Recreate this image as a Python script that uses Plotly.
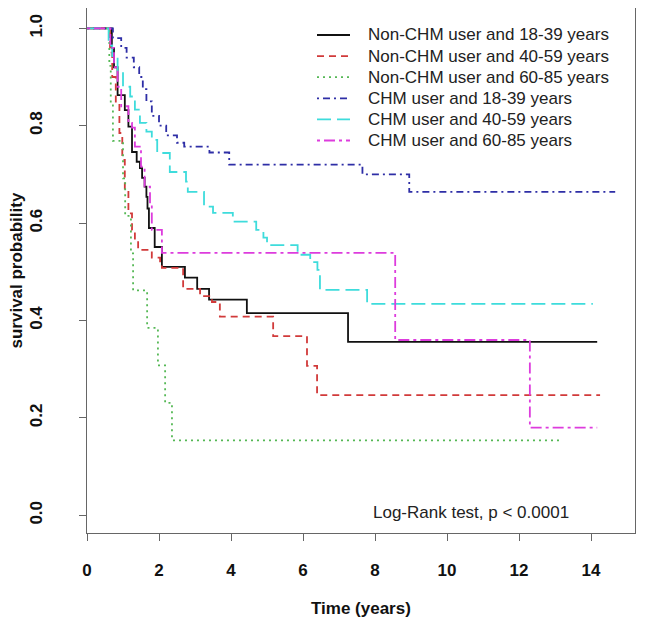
import plotly.graph_objects as go

# ---- data ----
names = [
    "Non-CHM user and 18-39 years",
    "Non-CHM user and 40-59 years",
    "Non-CHM user and 60-85 years",
    "CHM user and 18-39 years",
    "CHM user and 40-59 years",
    "CHM user and 60-85 years",
]

# Kaplan-Meier step points: event time -> survival after the drop
nonchm_1839_t = [0, 0.69, 0.75, 0.85, 1.05, 1.15, 1.25, 1.38, 1.47, 1.53, 1.60, 1.65, 1.68, 1.72, 1.88, 2.08, 2.72, 3.06, 3.39, 4.44, 7.25, 14.17]
nonchm_1839_s = [1.0, 0.96, 0.92, 0.863, 0.832, 0.798, 0.746, 0.726, 0.713, 0.693, 0.675, 0.654, 0.63, 0.59, 0.551, 0.51, 0.488, 0.465, 0.443, 0.415, 0.356, 0.356]

nonchm_4059_t = [0, 0.64, 0.70, 0.80, 0.90, 0.98, 1.05, 1.15, 1.25, 1.33, 1.42, 1.80, 2.03, 2.08, 2.67, 3.14, 3.47, 3.69, 5.17, 6.11, 6.39, 14.25]
nonchm_4059_s = [1.0, 0.95, 0.90, 0.847, 0.785, 0.73, 0.668, 0.62, 0.586, 0.566, 0.545, 0.529, 0.518, 0.508, 0.465, 0.45, 0.438, 0.408, 0.368, 0.307, 0.247, 0.247]

nonchm_6085_t = [0, 0.62, 0.66, 0.72, 1.00, 1.06, 1.22, 1.28, 1.67, 1.97, 2.17, 2.36, 13.14]
nonchm_6085_s = [1.0, 0.923, 0.846, 0.769, 0.692, 0.615, 0.538, 0.462, 0.385, 0.308, 0.231, 0.154, 0.154]

chm_1839_t = [0, 0.72, 0.95, 1.10, 1.30, 1.45, 1.55, 1.65, 1.80, 2.00, 2.20, 2.50, 2.70, 3.40, 3.95, 7.65, 8.95, 14.67]
chm_1839_s = [1.0, 0.98, 0.96, 0.94, 0.92, 0.90, 0.875, 0.85, 0.82, 0.80, 0.78, 0.765, 0.757, 0.745, 0.72, 0.70, 0.664, 0.664]

chm_4059_t = [0, 0.60, 0.70, 0.85, 1.00, 1.20, 1.33, 1.47, 1.65, 1.80, 1.95, 2.30, 2.75, 2.80, 3.25, 3.50, 4.05, 4.70, 4.90, 5.00, 5.85, 6.20, 6.40, 6.47, 7.78, 14.05]
chm_4059_s = [1.0, 0.965, 0.94, 0.91, 0.88, 0.86, 0.833, 0.806, 0.788, 0.771, 0.744, 0.705, 0.685, 0.664, 0.634, 0.621, 0.603, 0.586, 0.57, 0.555, 0.535, 0.52, 0.504, 0.463, 0.434, 0.434]

chm_6085_t = [0, 0.65, 0.75, 0.85, 0.95, 1.15, 1.25, 1.33, 1.50, 1.60, 1.75, 1.80, 2.08, 8.56, 12.30, 14.17]
chm_6085_s = [1.0, 0.96, 0.92, 0.88, 0.84, 0.806, 0.796, 0.757, 0.716, 0.675, 0.64, 0.586, 0.539, 0.36, 0.18, 0.18]

x_ticks = [0, 2, 4, 6, 8, 10, 12, 14]
y_ticks = [0.0, 0.2, 0.4, 0.6, 0.8, 1.0]
y_ticklabels = ["0.0", "0.2", "0.4", "0.6", "0.8", "1.0"]

# ---- styles ----
series = [
    (nonchm_1839_t, nonchm_1839_s, "#111111", "solid"),
    (nonchm_4059_t, nonchm_4059_s, "#D13A3A", "7px,5px"),
    (nonchm_6085_t, nonchm_6085_s, "#55B855", "2px,4px"),
    (chm_1839_t, chm_1839_s, "#2E2EA6", "2px,4px,7px,4px"),
    (chm_4059_t, chm_4059_s, "#3EDCDC", "14px,6px"),
    (chm_6085_t, chm_6085_s, "#DD3CDD", "3px,4px,11px,4px"),
]

FONT = "Liberation Sans, Arial, sans-serif"
AXCOL = "#666666"

# page body has an 8px default margin, so the figure is placed 8px in
OFF = 8
# desired plot-area edges in window pixels
PX0, PX1, PY0, PY1 = 87, 635, 8, 533
W, H = 640, 620
L, T = PX0 - OFF, PY0 - OFF
R, B = W - (PX1 - OFF), H - (PY1 - OFF)
PW, PH = PX1 - PX0, PY1 - PY0


def px_x(p):
    return (p - PX0) / PW


def px_y(p):
    return (PY1 - p) / PH


fig = go.Figure()
for name, (t, s, col, dash) in zip(names, series):
    fig.add_trace(go.Scatter(
        x=t, y=s, name=name, mode="lines", line_shape="hv",
        line=dict(color=col, width=1.8, dash=dash), showlegend=False,
    ))

shapes = []
annotations = []
for i, (name, (t, s, col, dash)) in enumerate(zip(names, series)):
    yy = 35 + 21.1 * i
    shapes.append(dict(type="line", xref="paper", yref="paper",
                       x0=px_x(317), x1=px_x(350), y0=px_y(yy), y1=px_y(yy),
                       line=dict(color=col, width=1.8, dash=dash)))
    annotations.append(dict(text=name, xref="paper", yref="paper",
                            x=px_x(366), y=px_y(yy), showarrow=False,
                            xanchor="left", yanchor="middle",
                            font=dict(family=FONT, size=17, color="#222222")))

annotations += [
    dict(text="Log-Rank test, p < 0.0001", xref="x", yref="y",
         x=10.67, y=0.005, showarrow=False, xanchor="center", yanchor="middle",
         font=dict(family=FONT, size=17, color="#222222")),
    dict(text="<b>Time (years)</b>", xref="paper", yref="paper",
         x=0.5, y=px_y(608), showarrow=False, xanchor="center", yanchor="middle",
         font=dict(family=FONT, size=17, color="#111111")),
    dict(text="<b>survival probability</b>", xref="paper", yref="paper",
         x=px_x(16), y=0.5, showarrow=False, xanchor="center", yanchor="middle",
         textangle=-90, font=dict(family=FONT, size=17, color="#111111")),
]

fig.update_layout(
    width=W, height=H,
    margin=dict(l=L, r=R, t=T, b=B, pad=0, autoexpand=False),
    paper_bgcolor="white", plot_bgcolor="white",
    font=dict(family=FONT, size=17, color="#222222"),
    showlegend=False,
    xaxis=dict(
        range=[0, 15.22], tickvals=x_ticks, ticktext=[str(v) for v in x_ticks],
        showgrid=False, zeroline=False, showline=True, mirror=True,
        linecolor=AXCOL, linewidth=1.2, ticks="outside", ticklen=7,
        tickcolor=AXCOL, tickwidth=1.2, automargin=False,
        tickfont=dict(family=FONT, size=17, color="#111111", weight="bold"),
        ticklabelstandoff=14,
    ),
    yaxis=dict(
        range=[-0.0363, 1.0417], tickvals=y_ticks, ticktext=y_ticklabels,
        showgrid=False, zeroline=False, showline=True, mirror=True,
        linecolor=AXCOL, linewidth=1.2, ticks="outside", ticklen=7,
        tickcolor=AXCOL, tickwidth=1.2, tickangle=-90, automargin=False,
        tickfont=dict(family=FONT, size=17, color="#111111", weight="bold"),
        ticklabelstandoff=30,
    ),
    shapes=shapes,
    annotations=annotations,
)

fig.write_html("out.html")
